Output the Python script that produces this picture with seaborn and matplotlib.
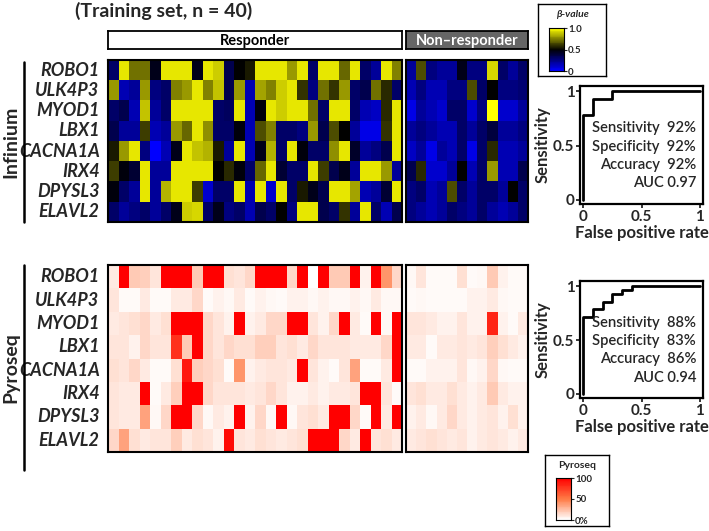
import numpy as np
import pandas as pd
import matplotlib
matplotlib.use("Agg")
import matplotlib.pyplot as plt
from matplotlib.colors import LinearSegmentedColormap
import seaborn as sns

sns.set_style("white")
plt.rcParams['font.family'] = ['Lato', 'DejaVu Sans']

# --- datos ---
genes = ["ROBO1", "ULK4P3", "MYOD1", "LBX1", "CACNA1A", "IRX4", "DPYSL3", "ELAVL2"]

# Infinium beta-values, responders (28) and non-responders (12)
inf_resp = [
    [0.30, 0.95, 0.72, 0.72, 0.45, 0.95, 0.95, 0.95, 0.45, 0.95, 0.90, 0.35, 0.50, 0.55, 0.95, 0.95, 0.95, 0.80, 0.95, 0.30, 0.95, 0.95, 0.70, 0.95, 0.30, 0.20, 0.95, 0.75],
    [0.80, 0.15, 0.20, 0.80, 0.25, 0.30, 0.75, 0.80, 0.95, 0.75, 0.88, 0.35, 0.80, 0.15, 0.82, 0.75, 0.90, 0.95, 0.60, 0.25, 0.72, 0.60, 0.80, 0.30, 0.35, 0.72, 0.58, 0.30],
    [0.30, 0.35, 0.15, 0.88, 0.20, 0.30, 0.95, 0.95, 0.95, 0.95, 0.30, 0.32, 0.95, 0.15, 0.48, 0.95, 0.90, 0.95, 0.95, 0.72, 0.30, 0.95, 0.95, 0.30, 0.15, 0.12, 0.58, 0.95],
    [0.35, 0.20, 0.20, 0.62, 0.15, 0.20, 0.80, 0.70, 0.95, 0.78, 0.30, 0.30, 0.48, 0.15, 0.65, 0.75, 0.30, 0.30, 0.25, 0.80, 0.35, 0.65, 0.50, 0.20, 0.05, 0.05, 0.60, 0.95],
    [0.55, 0.80, 0.95, 0.25, 0.00, 0.15, 0.45, 0.95, 0.88, 0.85, 0.55, 0.20, 0.95, 0.15, 0.45, 0.85, 0.30, 0.95, 0.48, 0.30, 0.30, 0.78, 0.95, 0.42, 0.20, 0.25, 0.35, 0.95],
    [0.62, 0.48, 0.40, 0.95, 0.20, 0.20, 0.95, 0.95, 0.95, 0.95, 0.50, 0.58, 0.48, 0.30, 0.70, 0.95, 0.40, 0.30, 0.30, 0.95, 0.62, 0.35, 0.45, 0.20, 0.95, 0.95, 0.80, 0.20],
    [0.48, 0.30, 0.20, 0.95, 0.20, 0.85, 0.95, 0.95, 0.62, 0.10, 0.30, 0.30, 0.95, 0.15, 0.95, 0.10, 0.95, 0.30, 0.55, 0.45, 0.35, 0.95, 0.95, 0.82, 0.15, 0.20, 0.40, 0.95],
    [0.30, 0.20, 0.25, 0.30, 0.20, 0.30, 0.45, 0.90, 0.92, 0.30, 0.45, 0.25, 0.30, 0.15, 0.35, 0.30, 0.50, 0.25, 0.95, 0.95, 0.35, 0.30, 0.60, 0.20, 0.95, 0.30, 0.15, 0.35],
]
inf_non = [
    [0.20, 0.65, 0.25, 0.20, 0.20, 0.45, 0.25, 0.25, 0.92, 0.30, 0.20, 0.30],
    [0.15, 0.25, 0.15, 0.15, 0.25, 0.25, 0.65, 0.30, 0.50, 0.25, 0.25, 0.28],
    [0.05, 0.20, 0.15, 0.10, 0.30, 0.30, 0.10, 0.25, 1.00, 0.10, 0.10, 0.20],
    [0.20, 0.25, 0.20, 0.15, 0.15, 0.30, 0.20, 0.30, 0.38, 0.20, 0.20, 0.25],
    [0.12, 0.20, 0.05, 0.20, 0.15, 0.30, 0.05, 0.30, 0.58, 0.15, 0.15, 0.20],
    [0.35, 0.58, 0.10, 0.10, 0.20, 0.50, 0.15, 0.30, 0.80, 0.15, 0.15, 0.35],
    [0.25, 0.30, 0.15, 0.20, 0.65, 0.30, 0.20, 0.30, 0.30, 0.20, 0.50, 0.30],
    [0.25, 0.20, 0.15, 0.20, 0.30, 0.25, 0.20, 0.30, 0.20, 0.15, 0.20, 0.30],
]

# Pyroseq methylation (%)
pyr_resp = [
    [8, 100, 20, 18, 10, 100, 100, 100, 20, 100, 100, 12, 10, 15, 100, 100, 100, 15, 100, 0, 100, 20, 20, 100, 5, 100, 40, 15],
    [10, 2, 2, 8, 2, 2, 8, 8, 15, 2, 5, 3, 8, 2, 5, 3, 2, 5, 5, 3, 5, 3, 3, 5, 3, 8, 3, 3],
    [8, 10, 12, 15, 8, 12, 100, 100, 100, 15, 10, 5, 100, 5, 8, 15, 15, 100, 100, 10, 5, 15, 100, 8, 2, 100, 3, 100],
    [10, 10, 5, 15, 10, 10, 80, 20, 100, 15, 10, 15, 12, 12, 18, 18, 10, 12, 8, 15, 10, 10, 10, 8, 8, 8, 15, 100],
    [12, 10, 15, 8, 2, 2, 12, 90, 18, 15, 12, 2, 40, 5, 8, 10, 10, 8, 100, 10, 5, 2, 10, 35, 2, 2, 8, 100],
    [10, 8, 8, 100, 2, 8, 18, 100, 100, 15, 10, 10, 10, 8, 10, 15, 10, 5, 5, 8, 5, 8, 8, 10, 100, 100, 10, 2],
    [10, 8, 8, 35, 3, 15, 100, 100, 15, 3, 8, 5, 100, 5, 15, 3, 100, 3, 10, 12, 8, 100, 100, 15, 2, 100, 8, 100],
    [15, 35, 12, 8, 10, 10, 18, 8, 12, 10, 5, 95, 10, 8, 12, 10, 8, 10, 12, 100, 100, 100, 15, 8, 100, 10, 12, 8],
]
pyr_non = [
    [3, 10, 2, 2, 2, 12, 2, 3, 20, 5, 2, 2],
    [2, 3, 2, 2, 2, 2, 5, 5, 8, 3, 2, 2],
    [10, 10, 8, 5, 5, 10, 5, 5, 85, 5, 2, 8],
    [8, 8, 2, 8, 8, 10, 8, 10, 18, 12, 8, 5],
    [2, 2, 5, 5, 5, 10, 3, 5, 15, 3, 2, 2],
    [10, 12, 8, 8, 12, 8, 5, 8, 20, 8, 5, 5],
    [5, 8, 3, 8, 15, 8, 5, 8, 10, 5, 12, 5],
    [8, 10, 12, 10, 8, 10, 5, 8, 10, 8, 5, 8],
]

# ROC curves (step points)
roc1_fpr = [0, 0, 1/12, 1/12, 3/12, 3/12, 1]
roc1_tpr = [0, 22/28, 22/28, 26/28, 26/28, 1, 1]
roc2_fpr = [0, 0, 1/12, 1/12, 2/12, 2/12, 3/12, 3/12, 4/12, 4/12, 5/12, 5/12, 1]
roc2_tpr = [0, 20/28, 20/28, 22/28, 22/28, 24/28, 24/28, 26/28, 26/28, 27/28, 27/28, 1, 1]
roc1_stats = [("Sensitivity", "92%"), ("Specificity", "92%"), ("Accuracy", "92%"), ("AUC", "0.97")]
roc2_stats = [("Sensitivity", "88%"), ("Specificity", "83%"), ("Accuracy", "86%"), ("AUC", "0.94")]

# --- colores ---
beta_cmap = LinearSegmentedColormap.from_list("beta", ["#0000ff", "#000000", "#ffff00"])
pyro_cmap = LinearSegmentedColormap.from_list("pyro", ["#ffffff", "#ff7a45", "#ff0000"])

W, H = 709, 531
fig = plt.figure(figsize=(W / 100, H / 100), dpi=100)


def caja(x0, y0, x1, y1):
    # coordenadas en pixeles (origen arriba-izquierda) -> fraccion de figura
    return [x0 / W, 1 - y1 / H, (x1 - x0) / W, (y1 - y0) / H]


def marco(ax, lw=1.5):
    for s in ax.spines.values():
        s.set_visible(True)
        s.set_color("black")
        s.set_linewidth(lw)


def panel(rect, datos, cmap, vmin, vmax, etiquetas=None):
    ax = fig.add_axes(rect)
    df = pd.DataFrame(datos, index=genes)
    sns.heatmap(df, ax=ax, cmap=cmap, vmin=vmin, vmax=vmax, cbar=False,
                xticklabels=False, yticklabels=etiquetas if etiquetas else False)
    if etiquetas:
        ax.tick_params(axis="y", length=0, pad=6)
        for t in ax.get_yticklabels():
            t.set_rotation(0)
            t.set_fontweight("bold")
            t.set_fontstyle("italic")
            t.set_fontsize(13)
    ax.set_xlabel("")
    ax.set_ylabel("")
    marco(ax)
    return ax


# ==============================
# HEATMAPS
# ==============================
panel(caja(108, 60, 402, 222), inf_resp, beta_cmap, 0, 1, genes)
panel(caja(406, 60, 528, 222), inf_non, beta_cmap, 0, 1)
panel(caja(108, 265, 402, 452), pyr_resp, pyro_cmap, 0, 100, genes)
panel(caja(406, 265, 528, 452), pyr_non, pyro_cmap, 0, 100)

# cabeceras
for (x0, x1), texto, fondo, color in [((108, 402), "Responder", "white", "black"),
                                       ((406, 528), "Non\u2013responder", "#666666", "white")]:
    axh = fig.add_axes(caja(x0, 31, x1, 49))
    axh.set_facecolor(fondo)
    axh.set_xticks([])
    axh.set_yticks([])
    marco(axh, 1.3)
    axh.text(0.5, 0.45, texto, ha="center", va="center", fontsize=10.5,
             fontweight="bold", color=color, transform=axh.transAxes)

fig.text(75 / W, 1 - 11 / H, "(Training set, n = 40)", fontsize=14,
         fontweight="bold", va="center", ha="left")

# grupos laterales
for (y0, y1), nombre in [((62, 222), "Infinium"), ((265, 470), "Pyroseq")]:
    fig.add_artist(plt.Line2D([24 / W, 24 / W], [1 - y0 / H, 1 - y1 / H],
                              color="black", lw=1.8))
    fig.text(11 / W, 1 - (y0 + y1) / 2 / H, nombre, rotation=90, fontsize=14,
             fontweight="bold", ha="center", va="center")

# ==============================
# ROC
# ==============================
def roc(rect, fpr, tpr, stats):
    ax = fig.add_axes(rect)
    sns.lineplot(x=fpr, y=tpr, ax=ax, color="black", lw=2, sort=False,
                 estimator=None)
    ax.set_xlim(-0.03, 1.03)
    ax.set_ylim(-0.04, 1.05)
    ax.set_xticks([0, 0.5, 1])
    ax.set_xticklabels(["0", "0.5", "1"])
    ax.set_yticks([0, 0.5, 1])
    ax.set_yticklabels(["0", "0.5", "1"])
    ax.tick_params(length=3, width=1.3, labelsize=11, pad=1, direction="out",
                   bottom=True, left=True)
    for t in ax.get_xticklabels() + ax.get_yticklabels():
        t.set_fontweight("bold")
    ax.set_xlabel("False positive rate", fontsize=12, fontweight="bold", labelpad=1)
    ax.set_ylabel("Sensitivity", fontsize=12, fontweight="bold", labelpad=2)
    marco(ax, 1.6)
    for i, (k, v) in enumerate(stats):
        y = 0.66 - i * 0.17
        sep = " " if k == "AUC" else "  "
        ax.text(0.97, y, f"{k}{sep}{v}", ha="right", va="center", fontsize=10.6,
                fontweight="semibold")
    return ax


roc(caja(580, 86, 703, 204), roc1_fpr, roc1_tpr, roc1_stats)
roc(caja(580, 281, 703, 398), roc2_fpr, roc2_tpr, roc2_stats)

# ==============================
# LEYENDAS
# ==============================
def leyenda(rect_caja, rect_barra, titulo, cmap, vmin, vmax, ticks, etiquetas, italic=False):
    axb = fig.add_axes(rect_caja)
    axb.set_xticks([])
    axb.set_yticks([])
    marco(axb, 1.0)
    axb.text(0.5, 0.85, titulo, ha="center", va="center", fontsize=7.5,
             fontweight="bold", fontstyle="italic" if italic else "normal",
             transform=axb.transAxes)
    axc = fig.add_axes(rect_barra)
    grad = pd.DataFrame(np.linspace(vmax, vmin, 50).reshape(-1, 1))
    sns.heatmap(grad, ax=axc, cmap=cmap, vmin=vmin, vmax=vmax, cbar=False,
                xticklabels=False, yticklabels=False)
    marco(axc, 0.8)
    axc.yaxis.tick_right()
    axc.set_yticks([(vmax - t) / (vmax - vmin) * 50 for t in ticks])
    axc.set_yticklabels(etiquetas)
    axc.tick_params(axis="y", right=True, left=False, length=2, width=0.8,
                    labelsize=7, pad=1, labelright=True, labelleft=False)
    for t in axc.get_yticklabels():
        t.set_fontweight("bold")


leyenda(caja(538, 4, 606, 76), caja(549, 28, 564, 71), "\u03b2-value", beta_cmap, 0, 1,
        [1, 0.5, 0], ["1.0", "0.5", "0"], italic=True)
leyenda(caja(545, 455, 609, 526), caja(556, 478, 571, 520), "Pyroseq", pyro_cmap, 0, 100,
        [100, 50, 0], ["100", "50", "0%"])

fig.savefig("out.png", dpi=100)
